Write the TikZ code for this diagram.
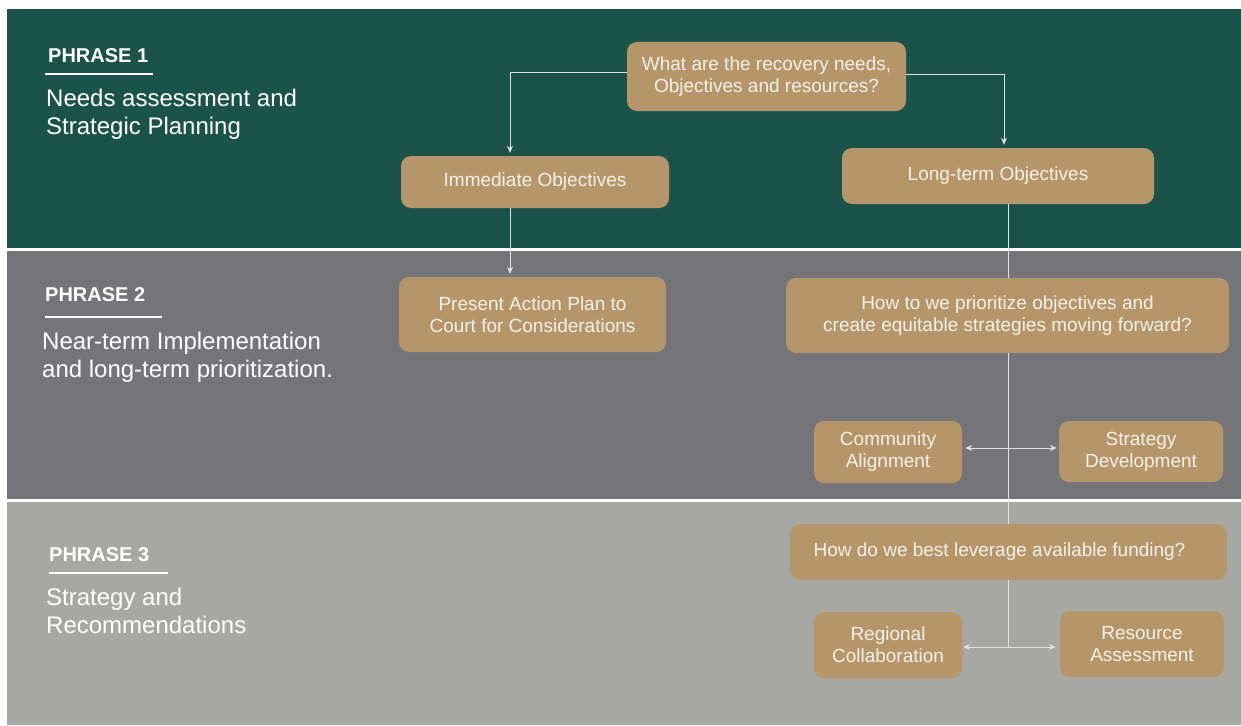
\documentclass[tikz,border=0pt]{standalone}
\usepackage{fontspec}
\setmainfont{Liberation Sans}
\usetikzlibrary{arrows.meta}
\definecolor{bandA}{HTML}{1B5249}
\definecolor{bandB}{HTML}{757479}
\definecolor{bandC}{HTML}{A7A8A3}
\definecolor{tan}{HTML}{B5966A}
\definecolor{boxtext}{HTML}{F6F1E8}
\definecolor{wire}{HTML}{E2E2E2}
\tikzset{
  box/.style={draw=none, fill=tan, rounded corners=10pt, inner sep=0pt, align=center,
    text=boxtext, font=\fontsize{19}{22}\selectfont},
  phasehead/.style={anchor=base west, inner sep=0pt, text=white, font=\fontsize{20}{24}\bfseries\selectfont},
  phasetext/.style={anchor=base west, inner sep=0pt, text=white, align=left, font=\fontsize{24}{28}\selectfont},
  rule/.style={draw=white, line width=1.6pt},
  wireline/.style={draw=wire, line width=1pt},
  arr/.style={wireline, -{Stealth[length=7pt,width=6pt]}},
  arrboth/.style={wireline, {Stealth[length=7pt,width=6pt]}-{Stealth[length=7pt,width=6pt]}},
}
\begin{document}
\begin{tikzpicture}[x=1pt, y=-1pt]
\useasboundingbox[fill=white] (0,0) rectangle (1241,725);
% bands
\fill[bandA] (7,9) rectangle (1241,248);
\fill[bandB] (7,251) rectangle (1241,499);
\fill[bandC] (7,502) rectangle (1241,725);

% left texts (base anchor = baseline of last line)
\node[phasehead] (h1) at (48,63) {PHRASE 1};
\draw[rule] (45,74) -- (153,74);
\node[phasetext] (t1) at (46,134) {Needs assessment and\\Strategic Planning};

\node[phasehead] (h2) at (45,301) {PHRASE 2};
\draw[rule] (45,317) -- (162,317);
\node[phasetext] (t2) at (42,377) {Near-term Implementation\\and long-term prioritization.};

\node[phasehead] (h3) at (49,561) {PHRASE 3};
\draw[rule] (49,573) -- (168,573);
\node[phasetext] (t3) at (46,633) {Strategy and\\Recommendations};

% boxes
\node[box, minimum width=279pt, minimum height=69pt] (q1) at (766.5,76.5) {What are the recovery needs,\\Objectives and resources?};
\node[box, minimum width=268pt, minimum height=52pt] (imm) at (535,182) {Immediate Objectives};
\node[box, minimum width=312pt, minimum height=56pt] (lt) at (998,176) {Long-term Objectives};
\node[box, minimum width=267pt, minimum height=75pt] (pap) at (532.5,314.5) {Present Action Plan to\\Court for Considerations};
\node[box, minimum width=443pt, minimum height=75pt] (q2) at (1007.5,315.5) {How to we prioritize objectives and\\create equitable strategies moving forward?};
\node[box, minimum width=148pt, minimum height=62pt] (ca) at (888,452) {Community\\Alignment};
\node[box, minimum width=164pt, minimum height=61pt] (sd) at (1141,451.5) {Strategy\\Development};
\node[box, minimum width=437pt, minimum height=56pt] (q3) at (1008.5,552) {How do we best leverage available funding?\hspace*{18pt}};
\node[box, minimum width=148pt, minimum height=66pt] (rc) at (888,645) {Regional\\Collaboration};
\node[box, minimum width=164pt, minimum height=66pt] (ra) at (1142,644) {Resource\\Assessment};

% connectors
\coordinate (spine) at (1008,0);
\coordinate (j1) at (1008,448);
\coordinate (j2) at (1008,647);
\draw[arr] ([yshift=4.5pt]q1.west) -| ([xshift=-25pt,yshift=3pt]imm.north);
\draw[arr] ([yshift=2.5pt]q1.east) -| ([xshift=6pt,yshift=3pt]lt.north);
\draw[arr] ([xshift=-25pt]imm.south) -- ([xshift=-22.5pt,yshift=3pt]pap.north);
\draw[wireline] (lt.south -| spine) -- (q2.north -| spine);
\draw[wireline] (q2.south -| spine) -- (q3.north -| spine);
\draw[wireline] (q3.south -| spine) -- (j2);
\draw[arrboth] ([xshift=3pt]ca.east |- j1) -- ([xshift=-2pt]sd.west |- j1);
\draw[arr] (j2) -- ([xshift=1pt]rc.east |- j2);
\draw[arr] (j2) -- ([xshift=-4pt]ra.west |- j2);
\end{tikzpicture}
\end{document}
